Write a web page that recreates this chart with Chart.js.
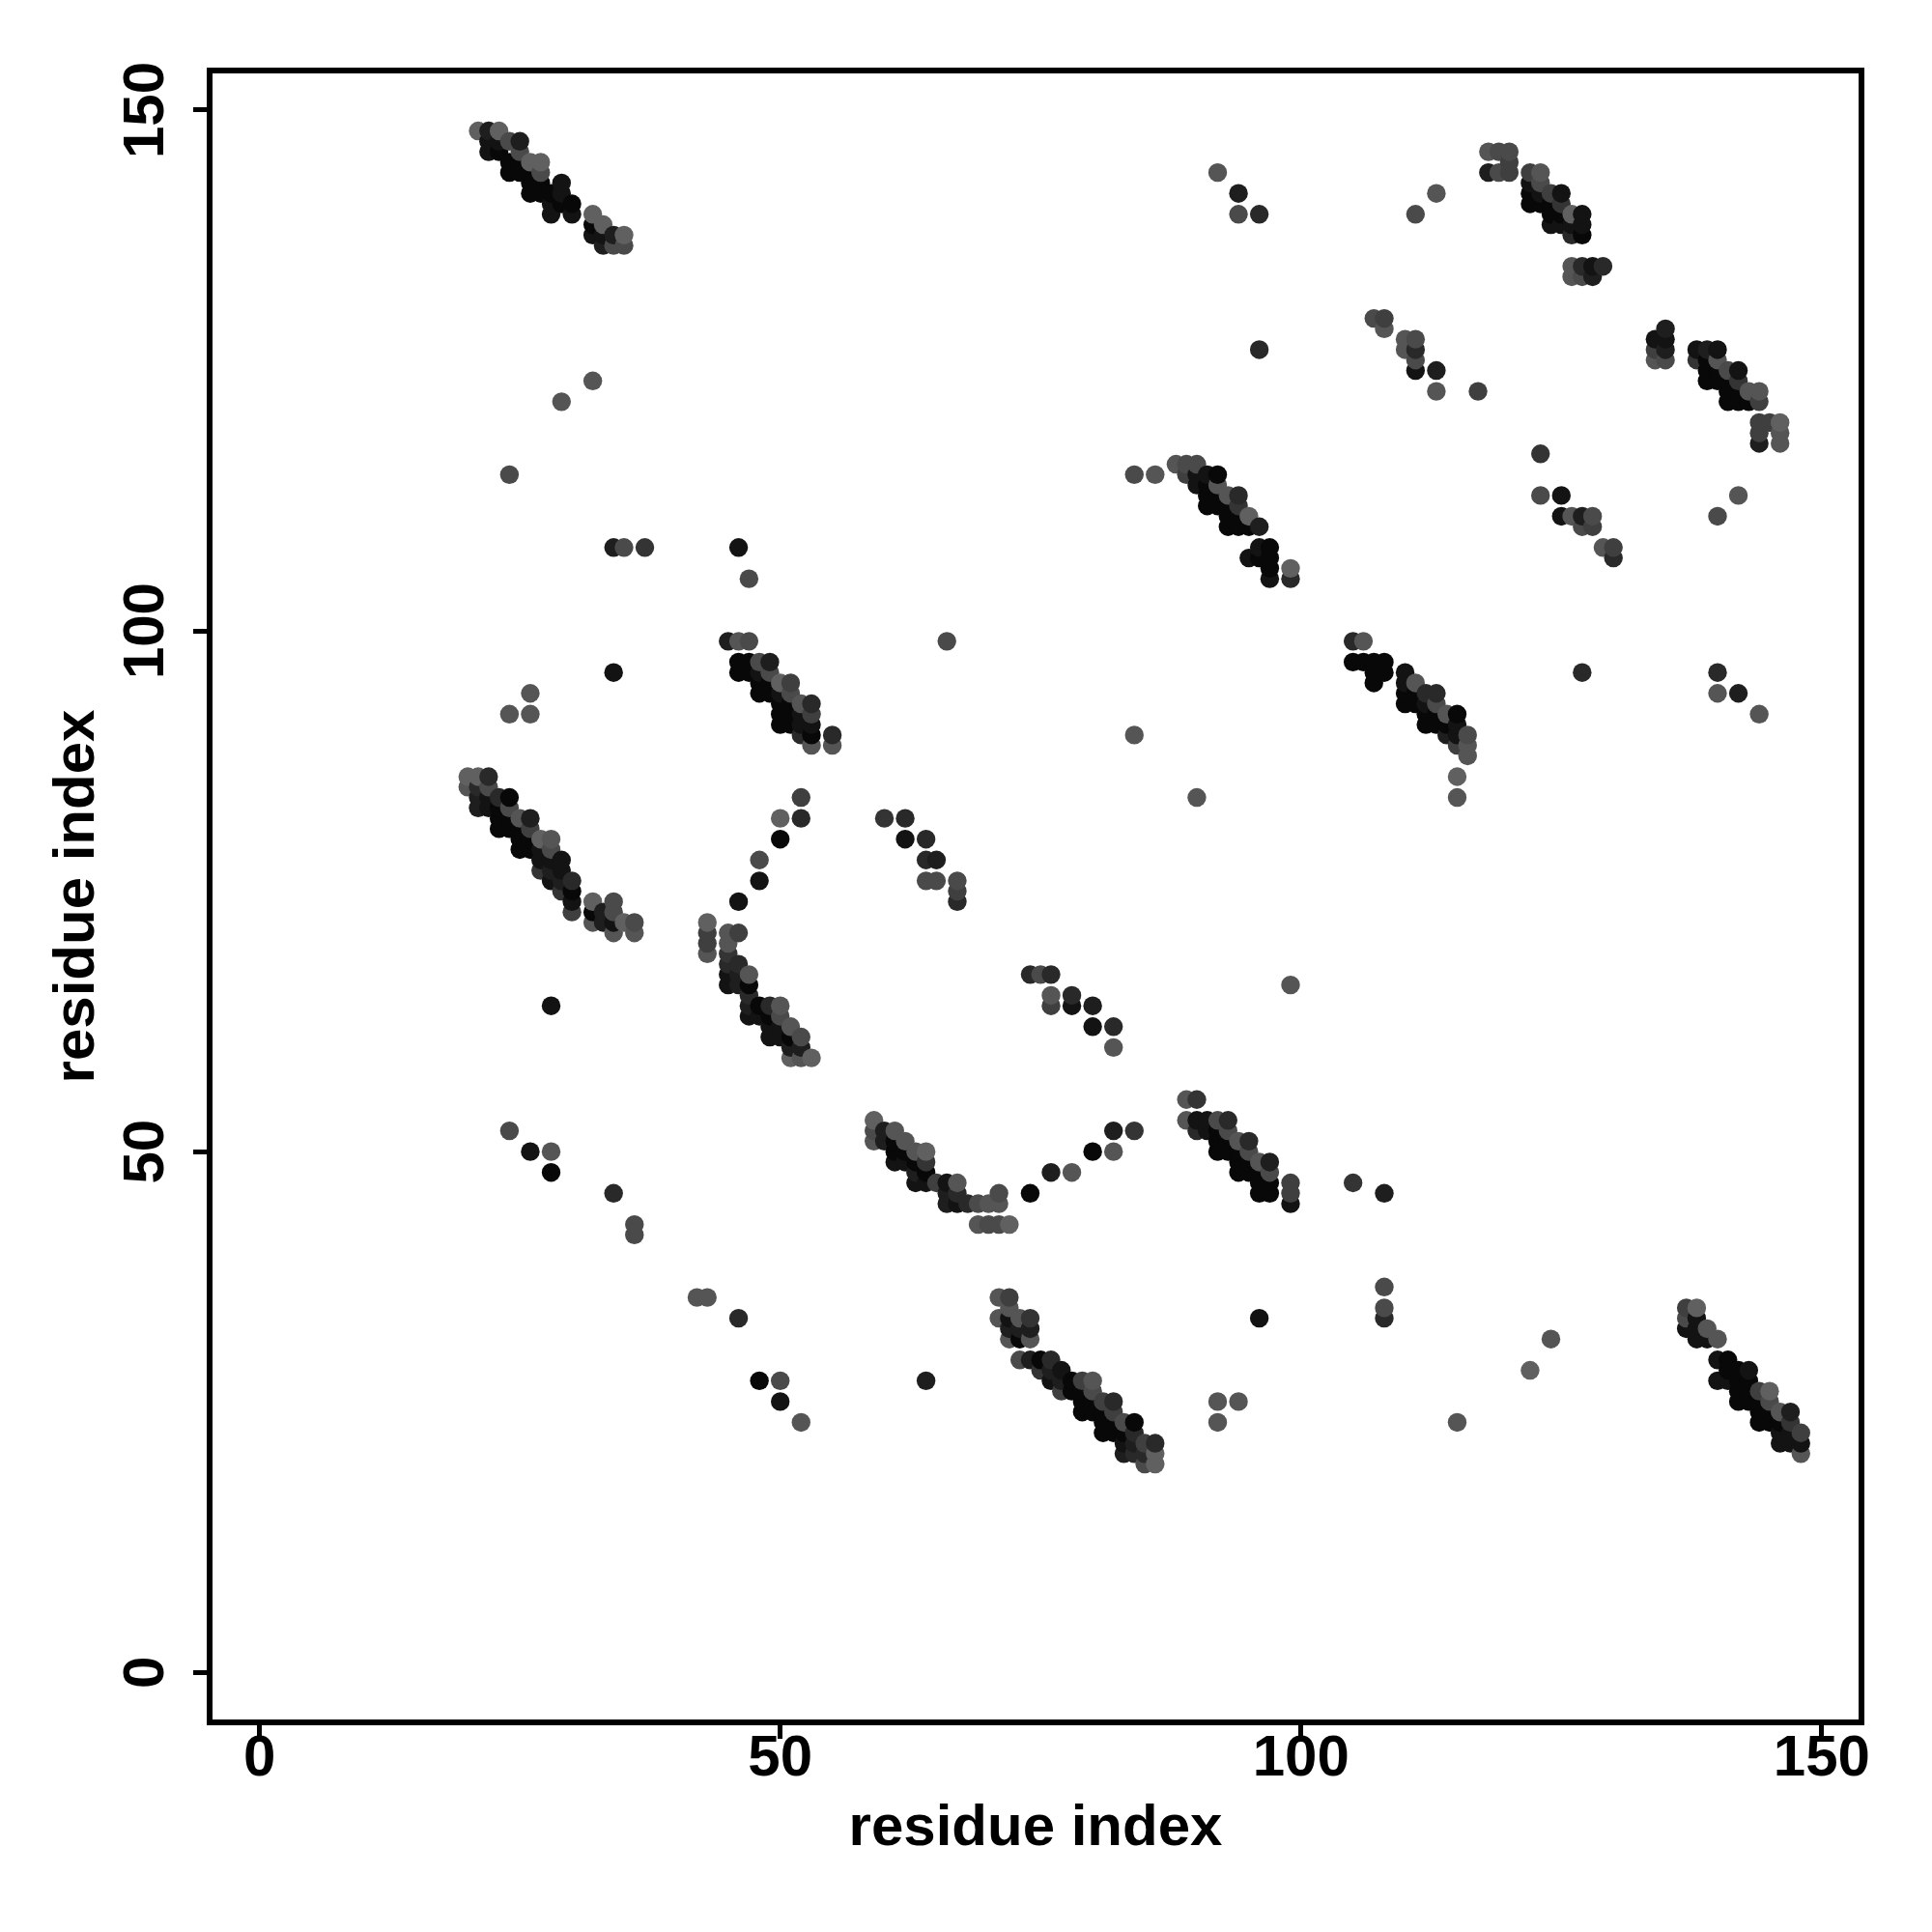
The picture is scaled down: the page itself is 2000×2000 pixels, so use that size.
<!DOCTYPE html>
<html>
<head>
<meta charset="utf-8">
<style>html,body{margin:0;padding:0;background:#fff}canvas{display:block}</style>
<script src="https://cdn.jsdelivr.net/npm/chart.js@4"></script>
</head>
<body>
<canvas id="c" width="2000" height="2000"></canvas>
<script>
// Each contact: [residue i, residue j, shade level 0 (black) .. 9 (grey)]
const bandA = [[21,148,8],[22,148,2],[23,148,8],[22,147,1],[23,147,1],[24,147,6],[25,147,2],[22,146,1],[23,146,0],[25,146,6],[24,145,0],[25,145,0],[26,145,8],[27,145,8],[24,144,0],[25,144,0],[26,144,0],[27,144,6],[26,143,0],[27,143,0],[29,143,1],[26,142,0],[27,142,0],[28,142,0],[29,142,1],[28,141,1],[29,141,0],[30,141,0],[28,140,1],[30,140,1],[32,140,8],[32,139,0],[33,139,8],[32,138,1],[33,138,1],[34,138,2],[35,138,8],[33,137,2],[34,137,6],[35,137,6]];
const bandB = [[20,86,8],[21,86,8],[22,86,3],[20,85,7],[21,85,3],[22,85,6],[21,84,2],[22,84,1],[23,84,3],[24,84,0],[21,83,2],[22,83,1],[23,83,0],[24,83,6],[23,82,0],[24,82,0],[25,82,7],[26,82,2],[23,81,0],[24,81,0],[25,81,0],[26,81,5],[25,80,0],[26,80,0],[27,80,8],[28,80,7],[25,79,0],[26,79,0],[27,79,1],[28,79,6],[27,78,1],[28,78,1],[29,78,1],[27,77,4],[28,77,2],[29,77,1],[28,76,1],[29,76,2],[30,76,3],[29,75,4],[30,75,0],[30,74,1],[30,73,5],[32,74,8],[34,74,6],[32,73,0],[33,73,2],[34,73,6],[32,72,7],[33,72,2],[34,72,1],[35,72,8],[36,72,6],[34,71,7],[36,71,7]];
const bandC = [[45,99,2],[46,99,7],[47,99,6],[46,97,0],[47,97,0],[48,97,6],[49,97,2],[46,96,0],[47,96,0],[48,96,1],[49,96,6],[48,95,0],[49,95,0],[50,95,8],[51,95,5],[48,94,0],[49,94,0],[50,94,1],[51,94,6],[50,93,0],[51,93,0],[52,93,7],[53,93,3],[50,92,0],[51,92,0],[52,92,1],[53,92,5],[50,91,0],[51,91,0],[52,91,1],[53,91,1],[52,90,3],[53,90,0],[55,90,3],[53,89,7],[55,89,7]];
const bandD = [[43,72,8],[43,71,5],[43,70,5],[43,69,7],[45,71,7],[46,71,5],[45,70,7],[45,69,4],[45,68,3],[46,68,3],[45,67,1],[46,67,2],[47,67,7],[45,66,1],[46,66,2],[47,66,0],[47,65,3],[47,64,2],[48,64,0],[49,64,3],[50,64,7],[47,63,1],[48,63,1],[49,63,0],[50,63,6],[49,62,1],[50,62,1],[51,62,7],[49,61,1],[50,61,1],[51,61,0],[52,61,6],[51,60,2],[52,60,2],[51,59,8],[52,59,7],[53,59,8]];
const bandE = [[59,53,8],[59,52,6],[60,52,2],[61,52,7],[59,51,7],[60,51,2],[61,51,0],[62,51,7],[61,50,0],[62,50,0],[63,50,7],[64,50,8],[61,49,1],[62,49,1],[63,49,0],[64,49,4],[63,48,2],[64,48,0],[63,47,1],[64,47,1],[65,47,5],[66,47,1],[67,47,7],[66,46,2],[67,46,3],[71,46,6],[66,45,2],[67,45,1],[68,45,3],[69,45,6],[70,45,7],[71,45,7],[69,43,7],[70,43,6],[71,43,6],[72,43,8]];
const bandF = [[71,36,7],[72,36,5],[72,35,7],[71,34,7],[72,34,1],[73,34,7],[74,34,4],[72,33,2],[73,33,2],[74,33,2],[72,32,7],[73,32,0],[74,32,7],[73,30,6],[74,30,2],[75,30,0],[76,30,3],[75,29,4],[76,29,2],[77,29,1],[76,28,1],[77,28,2],[78,28,0],[79,28,5],[80,28,7],[77,27,5],[78,27,0],[79,27,0],[80,27,6],[79,26,0],[80,26,0],[81,26,5],[82,26,3],[79,25,0],[80,25,0],[81,25,0],[82,25,5],[81,24,0],[82,24,0],[83,24,6],[84,24,0],[81,23,0],[82,23,0],[83,23,0],[84,23,3],[83,22,1],[84,22,2],[85,22,5],[86,22,3],[83,21,2],[84,21,3],[85,21,3],[86,21,8],[85,20,6],[86,20,8]];
const bandG = [[89,55,7],[90,55,4],[89,53,7],[90,53,1],[91,53,1],[92,53,6],[93,53,3],[90,52,3],[91,52,1],[92,52,0],[93,52,6],[92,51,0],[93,51,0],[94,51,7],[95,51,3],[92,50,0],[93,50,0],[94,50,0],[95,50,6],[94,49,0],[95,49,0],[96,49,7],[97,49,2],[94,48,0],[95,48,0],[96,48,0],[97,48,6],[96,47,0],[97,47,0],[96,46,0],[97,46,0],[99,47,5],[99,46,5],[99,45,1]];
const bandH = [[88,116,7],[89,116,6],[90,116,6],[89,115,5],[90,115,1],[91,115,1],[92,115,0],[90,114,1],[91,114,0],[92,114,7],[91,113,0],[92,113,0],[93,113,7],[94,113,3],[91,112,0],[92,112,0],[93,112,0],[94,112,4],[93,111,0],[94,111,0],[95,111,8],[93,110,0],[94,110,0],[95,110,0],[96,110,2],[96,108,1],[97,108,0],[95,107,1],[96,107,0],[97,107,0],[97,106,0],[99,106,8],[97,105,1],[99,105,3]];
const bandI = [[105,99,3],[106,99,7],[105,97,0],[106,97,0],[107,97,0],[108,97,0],[107,96,0],[108,96,0],[107,95,0],[110,96,1],[110,95,1],[111,95,7],[110,94,0],[111,94,0],[112,94,3],[113,94,3],[110,93,0],[111,93,0],[112,93,1],[113,93,6],[112,92,0],[113,92,0],[114,92,7],[115,92,0],[112,91,0],[113,91,0],[114,91,0],[115,91,1],[114,90,2],[115,90,1],[116,90,6],[115,89,5],[116,89,7],[116,88,7],[115,86,8],[115,84,7]];
const bandJ = [[118,146,7],[119,146,6],[120,146,6],[120,145,5],[118,144,2],[119,144,6],[120,144,5],[122,144,5],[123,144,7],[122,143,1],[123,143,6],[122,142,0],[123,142,1],[124,142,5],[125,142,1],[122,141,0],[123,141,0],[124,141,0],[125,141,4],[124,140,0],[125,140,0],[126,140,8],[127,140,1],[124,139,1],[125,139,1],[126,139,1],[127,139,1],[126,138,3],[127,138,0],[126,135,7],[127,135,3],[128,135,1],[129,135,3],[126,134,7],[127,134,6],[128,134,2]];
const bandK = [[135,129,2],[134,128,1],[135,128,1],[134,127,5],[135,127,2],[134,126,7],[135,126,6],[138,127,1],[139,127,2],[140,127,1],[138,126,4],[139,126,0],[140,126,7],[139,125,0],[140,125,0],[141,125,6],[142,125,1],[139,124,0],[140,124,0],[141,124,0],[142,124,4],[141,123,0],[142,123,0],[143,123,7],[144,123,7],[141,122,0],[142,122,0],[143,122,0],[144,122,5],[144,120,5],[145,120,5],[146,120,8],[144,119,5],[146,119,7],[144,118,2],[146,118,7]];
const bandL = [[137,35,5],[138,35,8],[137,34,6],[138,34,1],[137,33,1],[138,33,1],[139,33,7],[138,32,1],[139,32,1],[140,32,7],[140,30,1],[141,30,0],[141,29,0],[142,29,0],[143,29,1],[140,28,1],[141,28,1],[142,28,0],[143,28,0],[142,27,0],[143,27,0],[144,27,5],[145,27,8],[142,26,0],[143,26,0],[144,26,0],[145,26,6],[144,25,0],[145,25,0],[146,25,7],[147,25,2],[144,24,0],[145,24,0],[146,24,0],[147,24,4],[146,23,1],[147,23,1],[148,23,5],[146,22,1],[147,22,1],[148,22,1],[148,21,7]];
const shortBandsUpper = [[107,130,6],[108,130,5],[108,129,7],[110,128,7],[111,128,6],[110,127,7],[111,127,3],[111,126,6],[111,125,1],[113,125,2],[113,123,7],[117,123,5],[123,117,4],[123,113,6],[125,113,1],[125,111,1],[126,111,7],[127,111,2],[128,111,6],[127,110,6],[128,110,5],[129,108,7],[130,108,5],[130,107,3],[142,113,7],[140,111,6]];
const shortBandsMiddle = [[50,82,8],[52,82,3],[52,84,5],[50,80,0],[48,78,6],[48,76,1],[46,74,1],[60,82,4],[62,82,3],[62,80,1],[64,80,3],[64,78,3],[65,78,2],[64,76,6],[65,76,6],[67,76,6],[67,75,5],[67,74,3],[74,67,3],[75,67,6],[76,67,3],[76,65,7],[76,64,5],[78,65,3],[78,64,1],[80,64,2],[80,62,1],[82,62,3],[82,60,7]];
const isolatedUpper = [[92,144,7],[94,142,2],[94,140,6],[96,140,3],[111,140,6],[113,142,7],[96,127,3],[32,124,7],[29,122,7],[24,115,6],[84,115,6],[86,115,7],[34,108,2],[35,108,6],[37,108,4],[46,108,1],[47,105,6],[66,99,6],[34,96,1],[26,94,7],[24,92,7],[26,92,7],[84,90,7],[90,84,7],[127,96,3],[140,96,3],[140,94,7],[142,94,2],[144,92,7]];
const isolatedLower = [[99,66,7],[28,64,1],[24,52,6],[26,50,1],[28,50,7],[28,48,0],[34,46,3],[36,43,6],[36,42,6],[74,46,0],[76,48,2],[78,48,7],[80,50,0],[82,52,2],[82,50,7],[84,52,4],[105,47,4],[108,46,2],[108,37,6],[108,35,6],[108,34,3],[96,34,1],[46,34,3],[42,36,7],[43,36,7],[48,28,0],[50,28,6],[50,26,1],[52,24,7],[64,28,2],[92,26,7],[94,26,7],[92,24,7],[115,24,7],[122,29,8],[124,32,7]];
const tickValues = [0, 50, 100, 150];
const xTitle = "residue index";
const yTitle = "residue index";

const contacts = [bandA,bandB,bandC,bandD,bandE,bandF,bandG,bandH,bandI,bandJ,bandK,bandL,shortBandsUpper,shortBandsMiddle,isolatedUpper,isolatedLower]
  .flat().sort((p,q)=>p[0]-q[0]||p[1]-q[1]);

const FONT = {family:"'Liberation Sans', Arial, sans-serif", weight:"bold", size:60};
const frame = {id:"frame", afterDatasetsDraw(ch){
  const a=ch.chartArea, g=ch.ctx; g.save(); g.strokeStyle="#000"; g.lineWidth=6;
  g.strokeRect(a.left,a.top,a.right-a.left,a.bottom-a.top); g.restore();
}};
const setTicks = s => { s.ticks = tickValues.map(v=>({value:v})); };
const axisBase = {
  type:"linear", afterBuildTicks:setTicks,
  grid:{drawOnChartArea:false,drawTicks:true,tickLength:17,tickWidth:5,tickColor:"#000"},
  border:{display:false}
};
new Chart(document.getElementById("c"),{
  type:"scatter",
  data:{datasets:[{
    data:contacts.map(p=>({x:p[0],y:p[1]})),
    backgroundColor:contacts.map(p=>{const g=8+p[2]*11;return `rgb(${g},${g},${g})`;}),
    pointRadius:9.7,borderWidth:0,pointHoverRadius:9.7
  }]},
  options:{
    responsive:false,animation:false,
    layout:{padding:{top:73,right:73,left:0,bottom:0}},
    plugins:{legend:{display:false},tooltip:{enabled:false}},
    events:[],
    scales:{
      x:{...axisBase,min:-4.79,max:153.82,position:"bottom",
        afterFit(s){s.height=217;},
        ticks:{autoSkip:false,maxRotation:0,minRotation:0,padding:-15,color:"#000",font:FONT},
        title:{display:true,text:xTitle,color:"#000",font:FONT,padding:{top:0,bottom:71}}
      },
      y:{...axisBase,min:-4.8,max:153.8,position:"left",
        afterFit(s){s.width=217;},
        ticks:{autoSkip:false,minRotation:90,maxRotation:90,crossAlign:"center",padding:-3,color:"#000",font:FONT},
        title:{display:true,text:yTitle,color:"#000",font:FONT,padding:{top:44,bottom:0}}
      }
    }
  },
  plugins:[frame]
});
</script>
</body>
</html>
